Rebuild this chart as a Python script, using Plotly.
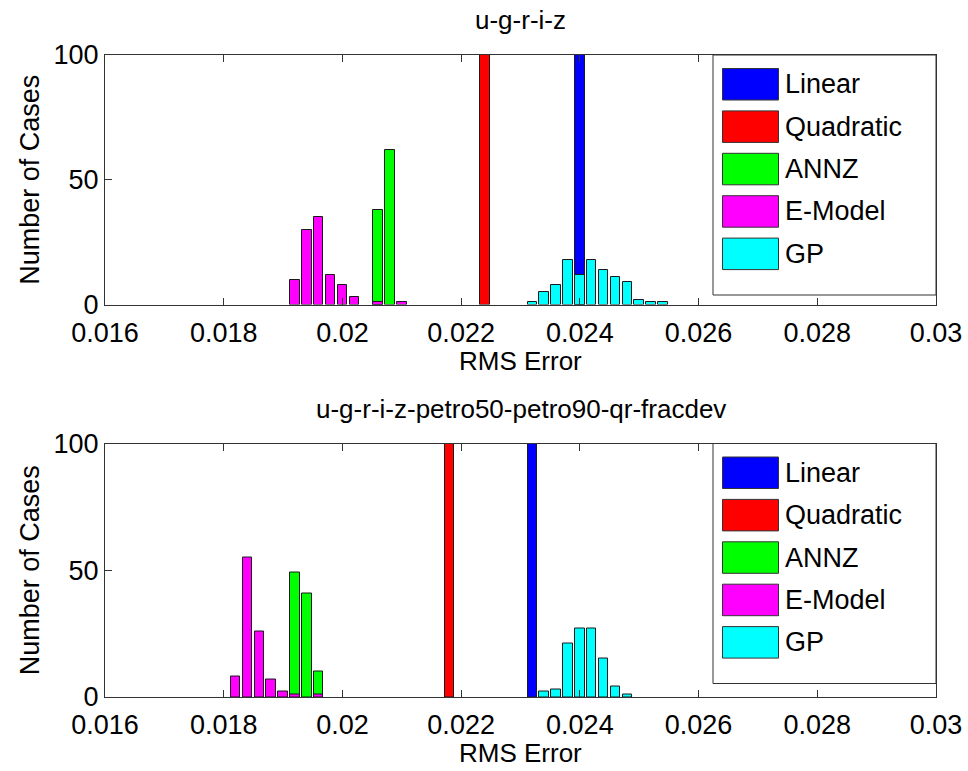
import plotly.graph_objects as go

W, H = 968, 771

series_names = ["Linear", "Quadratic", "ANNZ", "E-Model", "GP"]
series_colors = ["#0000ff", "#ff0000", "#00ff00", "#ff00ff", "#00ffff"]

panel_titles = ["u-g-r-i-z", "u-g-r-i-z-petro50-petro90-qr-fracdev"]
x_ticks = [0.016, 0.018, 0.02, 0.022, 0.024, 0.026, 0.028, 0.03]
x_tick_labels = ["0.016", "0.018", "0.02", "0.022", "0.024", "0.026", "0.028", "0.03"]
y_ticks = [0, 50, 100]
x_title = "RMS Error"
y_title = "Number of Cases"

# ---- panel 1 : u-g-r-i-z ----
p1_linear_x = [0.0240]
p1_linear_y = [100]
p1_quad_x = [0.0224]
p1_quad_y = [100]
p1_annz_x = [0.0206, 0.0208]
p1_annz_y = [38, 62]
p1_emodel_x = [0.0192, 0.0194, 0.0196, 0.0198, 0.0200, 0.0202, 0.0206, 0.0210]
p1_emodel_y = [10, 30, 35, 12, 8, 3, 1, 1]
p1_gp_x = [0.0232, 0.0234, 0.0236, 0.0238, 0.0240, 0.0242, 0.0244, 0.0246,
           0.0248, 0.0250, 0.0252, 0.0254]
p1_gp_y = [1, 5, 8, 18, 12, 18, 14, 11, 9, 2, 1, 1]

# ---- panel 2 : u-g-r-i-z-petro50-petro90-qr-fracdev ----
p2_linear_x = [0.0232]
p2_linear_y = [100]
p2_quad_x = [0.0218]
p2_quad_y = [100]
p2_annz_x = [0.0192, 0.0194, 0.0196]
p2_annz_y = [49, 41, 10]
p2_emodel_x = [0.0182, 0.0184, 0.0186, 0.0188, 0.0190, 0.0192, 0.0196]
p2_emodel_y = [8, 55, 26, 7, 2, 1, 1]
p2_gp_x = [0.0234, 0.0236, 0.0238, 0.0240, 0.0242, 0.0244, 0.0246, 0.0248]
p2_gp_y = [2, 3, 21, 27, 27, 15, 4, 1]

panels = [
    [(p1_linear_x, p1_linear_y), (p1_quad_x, p1_quad_y), (p1_annz_x, p1_annz_y),
     (p1_emodel_x, p1_emodel_y), (p1_gp_x, p1_gp_y)],
    [(p2_linear_x, p2_linear_y), (p2_quad_x, p2_quad_y), (p2_annz_x, p2_annz_y),
     (p2_emodel_x, p2_emodel_y), (p2_gp_x, p2_gp_y)],
]

BAR_W = 0.00016
FONT = "Liberation Sans, Arial, sans-serif"
FS = 27

# axes placement in pixels
ax_left, ax_right = 105, 936
ax_tops = [55, 443.5]
ax_bots = [304.5, 697]

fig = go.Figure()

for pi, panel in enumerate(panels):
    xa = "x" if pi == 0 else "x2"
    ya = "y" if pi == 0 else "y2"
    for si, (xs, ys) in enumerate(panel):
        fig.add_trace(go.Bar(
            x=xs, y=ys, width=BAR_W, name=series_names[si],
            marker=dict(color=series_colors[si], line=dict(color="#1a1a1a", width=1)),
            xaxis=xa, yaxis=ya, showlegend=False,
        ))

axis_common = dict(
    showgrid=False, zeroline=False, showline=True, linecolor="#333333", linewidth=1,
    mirror="allticks", ticks="inside", ticklen=7, tickcolor="#333333",
    tickfont=dict(family=FONT, size=FS, color="black"), automargin=False,
)

layout = dict(
    width=W, height=H, plot_bgcolor="white", paper_bgcolor="white",
    margin=dict(l=0, r=0, t=0, b=0, autoexpand=False), barmode="overlay", bargap=0,
    showlegend=False,
)

for pi in range(2):
    sfx = "" if pi == 0 else "2"
    y0 = 1 - ax_bots[pi] / H
    y1 = 1 - ax_tops[pi] / H
    layout["xaxis" + sfx] = dict(
        axis_common, domain=[ax_left / W, ax_right / W], range=[0.016, 0.03],
        tickvals=x_ticks, ticktext=x_tick_labels, anchor="y" + sfx,
        ticklabelstandoff=4,
    )
    layout["yaxis" + sfx] = dict(
        axis_common, domain=[y0, y1], range=[0, 100], tickvals=y_ticks,
        anchor="x" + sfx,
    )

fig.update_layout(**layout)


def px_x(v):
    return v / W


def px_y(v):
    return 1 - v / H


annotations = []
shapes = []
for pi in range(2):
    top, bot = ax_tops[pi], ax_bots[pi]
    cx = (ax_left + ax_right) / 2 / W
    # title
    annotations.append(dict(
        text=panel_titles[pi], x=cx, y=px_y(top - 35), xref="paper", yref="paper",
        showarrow=False, xanchor="center", yanchor="middle",
        font=dict(family=FONT, size=FS - 1, color="black"),
    ))
    # x-axis title
    annotations.append(dict(
        text=x_title, x=cx, y=px_y(bot + 56), xref="paper", yref="paper",
        showarrow=False, xanchor="center", yanchor="middle",
        font=dict(family=FONT, size=FS - 1, color="black"),
    ))
    # y-axis title
    annotations.append(dict(
        text=y_title, x=px_x(30), y=px_y((top + bot) / 2), xref="paper", yref="paper",
        showarrow=False, xanchor="center", yanchor="middle", textangle=-90,
        font=dict(family=FONT, size=FS, color="black"),
    ))
    # legend box
    shapes.append(dict(
        type="rect", xref="paper", yref="paper",
        x0=px_x(713), x1=px_x(ax_right), y0=px_y(top + 240), y1=px_y(top),
        line=dict(color="#333333", width=1), fillcolor="white", layer="above",
    ))
    for si, name in enumerate(series_names):
        r_top = top + 13.5 + 42.4 * si
        r_bot = r_top + 31.5
        shapes.append(dict(
            type="rect", xref="paper", yref="paper",
            x0=px_x(722.5), x1=px_x(778.5), y0=px_y(r_bot), y1=px_y(r_top),
            line=dict(color="#333333", width=1), fillcolor=series_colors[si], layer="above",
        ))
        annotations.append(dict(
            text=name, x=px_x(783), y=px_y((r_top + r_bot) / 2), xref="paper", yref="paper",
            showarrow=False, xanchor="left", yanchor="middle",
            font=dict(family=FONT, size=FS, color="black"),
        ))

fig.update_layout(annotations=annotations, shapes=shapes)

fig.write_html("out.html", config={"displayModeBar": False},
               post_script="document.body.style.margin='0px';")
